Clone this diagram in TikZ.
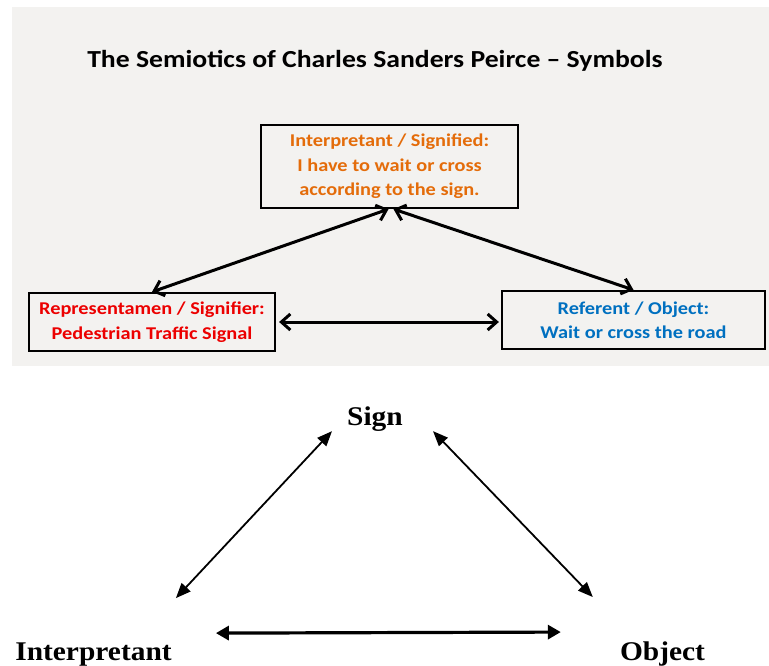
\documentclass[tikz,border=0pt]{standalone}
\usepackage{fontspec}
\setmainfont{Liberation Serif}
\newfontfamily\calibri[FakeStretch=1.13]{Carlito}
\newfontfamily\termfont[FakeStretch=1.09]{Liberation Serif}
\usetikzlibrary{arrows.meta, positioning}
\definecolor{panelgray}{RGB}{243,242,240}
\definecolor{interpcol}{RGB}{228,108,10}
\definecolor{reprcol}{RGB}{236,0,0}
\definecolor{objcol}{RGB}{0,112,192}

\begin{document}
\begin{tikzpicture}[
    x=1pt, y=-1pt,
    every node/.style={inner sep=0pt},
    title/.style={font=\calibri\bfseries\fontsize{24.5}{29}\selectfont},
    box/.style={draw=black, line width=2.2pt, align=center, font=\calibri\bfseries\fontsize{18}{24.5}\selectfont},
    term/.style={anchor=base, font=\termfont\bfseries\fontsize{27}{32}\selectfont},
    barb/.style={line width=3pt, {Straight Barb[length=9pt,width=16pt]}-{Straight Barb[length=9pt,width=16pt]}},
    tri/.style={line width=1.8pt, {Triangle[length=15pt,width=12pt]}-{Triangle[length=15pt,width=12pt]}},
    trithick/.style={line width=3.2pt, {Triangle[length=13pt,width=14pt]}-{Triangle[length=13pt,width=14pt]}}
]
   \useasboundingbox (0,0) rectangle (769,666);

   % Grey panel with the Peirce triangle in boxes
   \fill[panelgray] (12,7) rectangle (769,366);
   \node[title] (head) at (375,61) {The Semiotics of Charles Sanders Peirce – Symbols};

   \node[box, text=interpcol, minimum width=257pt, minimum height=83pt] (interpbox) at (389.5,166.5)
      {Interpretant / Signified:\\I have to wait or cross\\according to the sign.};
   \node[box, text=reprcol, minimum width=246pt, minimum height=58pt] (reprbox) at (152,322)
      {Representamen / Signifier:\\Pedestrian Traffic Signal};
   \node[box, text=objcol, minimum width=263pt, minimum height=58pt] (objbox) at (633.5,320)
      {Referent / Object:\\Wait or cross the road};

   \draw[barb] (reprbox.north) -- ([xshift=-1pt]interpbox.south);
   \draw[barb] (objbox.north) -- ([xshift=4pt]interpbox.south);
   \draw[barb] ([xshift=3pt]reprbox.east) -- ([xshift=-2pt]objbox.west |- reprbox.east);

   % Plain triangle below
   \node[term] (sign) at (375,425) {Sign};
   \node[term] (interp) at (93.5,660) {Interpretant};
   \node[term] (object) at (662.5,660) {Object};

   \draw[tri] ([xshift=-15pt]sign.south west) -- ([xshift=4pt, yshift=44pt]interp.north east);
   \draw[tri] ([xshift=30pt]sign.south east) -- ([xshift=-27pt, yshift=44pt]object.north west);
   \draw[trithick] ([xshift=44pt, yshift=9pt]interp.north east) -- ([xshift=-59pt, yshift=9pt]object.north west);
\end{tikzpicture}
\end{document}
